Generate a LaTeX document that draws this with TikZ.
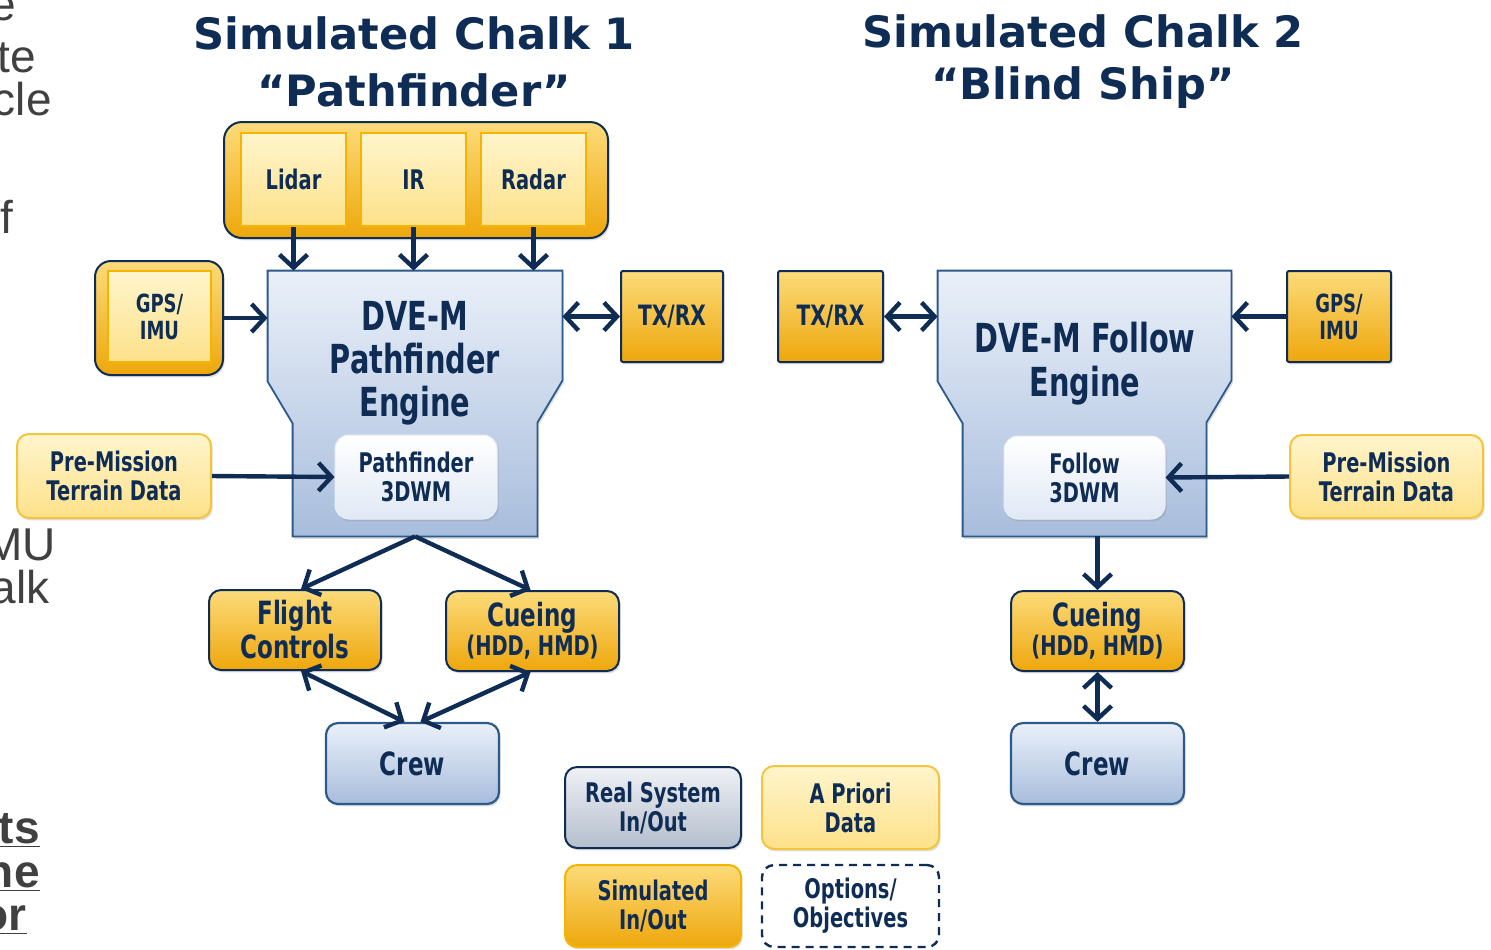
\documentclass[tikz,border=0pt]{standalone}
\usepackage{fontspec}
\setmainfont{DejaVu Sans}
\newfontfamily\boxfont[FakeStretch=0.72]{DejaVu Sans}
\newfontfamily\slidefont{Liberation Sans}
\usetikzlibrary{arrows.meta, positioning, shadows, calc}
\definecolor{navy}{HTML}{0F2C55}
\definecolor{goldT}{HTML}{FCDB7A}
\definecolor{goldB}{HTML}{EEA70C}
\definecolor{paleT}{HTML}{FFF5CC}
\definecolor{paleB}{HTML}{FDE18A}
\definecolor{paleD}{HTML}{F3C53F}
\definecolor{orangeD}{HTML}{F4B400}
\definecolor{blueT}{HTML}{EAF0F9}
\definecolor{blueB}{HTML}{A8BDDC}
\definecolor{blueD}{HTML}{2C5A8A}
\definecolor{greyT}{HTML}{EFF1F5}
\definecolor{greyB}{HTML}{B4BECD}
\definecolor{slidegray}{HTML}{404040}

\begin{document}
\begin{tikzpicture}[x=0.5pt, y=-0.5pt,
  txt/.style={text=navy,align=center,inner sep=0pt,font=\boxfont\bfseries\fontsize{13.5}{14.5}\selectfont},
  shad/.style={drop shadow={shadow xshift=0.8pt,shadow yshift=-1.2pt,opacity=0.25}},
  goldbox/.style={txt,shad,draw=navy,line width=1pt,top color=goldT,bottom color=goldB,rounded corners=6pt},
  palebox/.style={txt,shad,draw=paleD,line width=1pt,top color=paleT,bottom color=paleB,rounded corners=6pt},
  sensbox/.style={txt,draw=orangeD,line width=0.8pt,top color=paleT,bottom color=paleB},
  bluebox/.style={txt,shad,draw=blueD,line width=1.1pt,top color=blueT,bottom color=blueB,rounded corners=6pt},
  wmbox/.style={txt,shad,draw=blueT,line width=0.5pt,top color=white,bottom color=blueT!85!blueB,rounded corners=7pt,minimum width=81pt,minimum height=42pt},
  eng/.style={top color=blueT,bottom color=blueB,draw=blueD,line width=0.9pt,shad},
  engtxt/.style={txt,font=\boxfont\bfseries\fontsize{20}{21.5}\selectfont},
  big/.style={font=\boxfont\bfseries\fontsize{16}{17}\selectfont},
  ttl/.style={text=navy,font=\bfseries\fontsize{21.6}{26}\selectfont},
  frag/.style={text=slidegray,inner sep=0pt,font=\slidefont\fontsize{23}{27}\selectfont},
  arr/.style={draw=navy,line width=2.2pt,-{Straight Barb[length=6.5pt,width=14pt]}},
  darr/.style={draw=navy,line width=2.2pt,{Straight Barb[length=6.5pt,width=14pt]}-{Straight Barb[length=6.5pt,width=14pt]}}]
\useasboundingbox (0,0) rectangle (1491,949);

% cut-off slide text
\foreach \x/\y/\w in {16/20/e, 36/72/te, 52/115/cle, 14/233/f, 56/560/MU, 50/603/alk}
  \node[frag,anchor=base east] (f\y) at (\x,\y) {\w};
\foreach \x/\y/\w in {40/843/ts, 40/887/ne, 27/930/or}
  \node[frag,font=\slidefont\bfseries\fontsize{23}{27}\selectfont,anchor=base east] (f\y) at (\x,\y) {\underline{\w}};

% titles
\node[ttl] (t1) at (414,33) {Simulated Chalk 1};
\node[ttl] (t1q) at (414,90) {“Pathfinder”};
\node[ttl] (t2) at (1083,31) {Simulated Chalk 2};
\node[ttl] (t2q) at (1083,88) {“Blind Ship”};

% chalk 1
\node[goldbox,minimum width=192pt,minimum height=58pt,rounded corners=9pt] (sens) at (416,180) {};
\foreach \n/\t/\x in {lidar/Lidar/293.5, ir/IR/413.5, radar/Radar/533.5}
  \node[sensbox,minimum width=52.5pt,minimum height=46.5pt] (\n) at (\x,179.5) {\t};

\node[minimum width=147pt,minimum height=132.5pt,inner sep=0pt] (pfeng) at (415,403.5) {};
\shade[eng] (pfeng.north west) -- (pfeng.north east) -- ++(0,110) -- ++(-25,42) |- ($(pfeng.south west)+(25,0)$) -- ++(0,-113) -- ++(-25,-42) -- cycle;
\node[engtxt] (pftxt) at (415,363) {DVE-M\\Pathfinder\\Engine};
\node[wmbox] (pf3d) at (416,477) {Pathfinder\\3DWM};

\node[goldbox,minimum width=64pt,minimum height=57pt,rounded corners=8pt] (gpsL) at (159,318) {};
\node[sensbox,minimum width=51.5pt,minimum height=45.5pt,font=\boxfont\bfseries\fontsize{12.5}{13.5}\selectfont] (gpsLin) at (159.5,316.5) {GPS/\\IMU};
\node[goldbox,rounded corners=1pt,minimum width=51pt,minimum height=45.5pt,font=\boxfont\bfseries\fontsize{14}{15}\selectfont] (txL) at (672,316.5) {TX/RX};
\node[palebox,minimum width=97pt,minimum height=42pt] (pmL) at (114,476) {Pre-Mission\\Terrain Data};

\node[goldbox,big,minimum width=86pt,minimum height=40pt] (flight) at (295,630) {Flight\\Controls};
\node[goldbox,minimum width=86.5pt,minimum height=40pt] (cueL) at (532.5,631) {{\fontsize{16}{17}\selectfont Cueing}\\(HDD, HMD)};
\node[bluebox,big,minimum width=86.5pt,minimum height=40.5pt] (crewL) at (412.5,763.5) {Crew};

\foreach \n in {lidar,ir,radar}{\draw[arr] (\n.south) -- (\n.south |- pfeng.north);}
\draw[arr] (gpsL.east) -- (gpsL.east -| pfeng.west);
\draw[darr] (pfeng.east |- txL.west) -- (txL.west);
\draw[arr] (pmL.east) -- (pf3d.west);
\draw[arr] (pfeng.south) -- ([xshift=3pt]flight.north);
\draw[arr] (pfeng.south) -- ([xshift=-1pt]cueL.north);
\draw[darr] ([xshift=3pt]flight.south) -- ([xshift=-4pt]crewL.north);
\draw[darr] ([xshift=-1pt]cueL.south) -- ([xshift=4pt]crewL.north);

% chalk 2
\node[minimum width=146.5pt,minimum height=132.5pt,inner sep=0pt] (fweng) at (1084.5,403.5) {};
\shade[eng] (fweng.north west) -- (fweng.north east) -- ++(0,110) -- ++(-25,42) |- ($(fweng.south west)+(25,0)$) -- ++(0,-113) -- ++(-25,-42) -- cycle;
\node[engtxt,font=\boxfont\bfseries\fontsize{20}{22}\selectfont] (fwtxt) at (1085,364) {DVE-M Follow\\Engine};
\node[wmbox,minimum width=80.5pt,minimum height=41.5pt] (fw3d) at (1084.5,477.5) {Follow\\3DWM};

\node[goldbox,rounded corners=1pt,minimum width=52.5pt,minimum height=45.5pt,font=\boxfont\bfseries\fontsize{14}{15}\selectfont] (txR) at (830.5,316.5) {TX/RX};
\node[goldbox,rounded corners=1pt,minimum width=52pt,minimum height=45.5pt,font=\boxfont\bfseries\fontsize{12.5}{13.5}\selectfont] (gpsR) at (1339,316.5) {GPS/\\IMU};
\node[palebox,minimum width=96.5pt,minimum height=41.5pt] (pmR) at (1386.5,476.5) {Pre-Mission\\Terrain Data};
\node[goldbox,minimum width=86.5pt,minimum height=40pt] (cueR) at (1097.5,631) {{\fontsize{16}{17}\selectfont Cueing}\\(HDD, HMD)};
\node[bluebox,big,minimum width=86.5pt,minimum height=40.5pt] (crewR) at (1097.5,763.5) {Crew};

\draw[darr] (txR.east) -- (txR.east -| fweng.west);
\draw[arr] (gpsR.west) -- (gpsR.west -| fweng.east);
\draw[arr] (pmR.west) -- (fw3d.east);
\draw[arr] (cueR.north |- fweng.south) -- (cueR.north);
\draw[darr] (cueR.south) -- (crewR.north);

% legend
\node[txt,shad,draw=navy,line width=1pt,top color=greyT,bottom color=greyB,rounded corners=6pt,minimum width=88pt,minimum height=40.5pt] (lgreal) at (653,807.5) {Real System\\In/Out};
\node[palebox,minimum width=88.5pt,minimum height=41.5pt] (lgprior) at (850.5,807.5) {A Priori\\Data};
\node[txt,shad,draw=orangeD,line width=1pt,top color=goldT,bottom color=goldB,rounded corners=6pt,minimum width=88pt,minimum height=41pt] (lgsim) at (653,906) {Simulated\\In/Out};
\node[txt,draw=navy,line width=1.2pt,dash pattern=on 4pt off 3pt,fill=white,rounded corners=6pt,minimum width=88.5pt,minimum height=41pt] (lgopt) at (850.5,906) {Options/\\Objectives};
\end{tikzpicture}
\end{document}
